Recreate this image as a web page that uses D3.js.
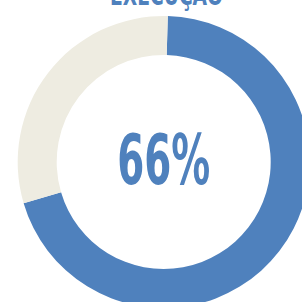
<!DOCTYPE html>
<html>
<head>
<meta charset="utf-8">
<script src="https://cdn.jsdelivr.net/npm/d3@7"></script>
<style>
  html, body { margin: 0; padding: 0; background: #fff; overflow: hidden; }
</style>
</head>
<body>
<svg id="chart" width="302" height="302"></svg>
<script>
// data
const categories = ['Executado', 'Restante'];
const values = [70, 30];
const colors = ['#4f81bd', '#eeece1'];
const titleText = 'EXECUÇÃO';
const centerLabel = '66%';

const width = 302, height = 302;
const cx = 163.7, cy = 162;
const outerR = 146, innerR = 107;

const svg = d3.select('#chart');

const pie = d3.pie()
  .sort(null)
  .startAngle(0.028)
  .endAngle(0.028 + Math.PI * 2);

const arc = d3.arc()
  .innerRadius(innerR)
  .outerRadius(outerR);

const color = d3.scaleOrdinal()
  .domain(categories)
  .range(colors);

const g = svg.append('g')
  .attr('transform', 'translate(' + cx + ',' + cy + ')');

// donut slices
g.selectAll('path')
  .data(pie(values))
  .enter()
  .append('path')
  .attr('d', arc)
  .attr('fill', (d, i) => color(categories[i]));

// big number in the middle
g.append('text')
  .attr('x', 0)
  .attr('y', 22)
  .attr('text-anchor', 'middle')
  .attr('font-family', '"Liberation Sans Narrow", "DejaVu Sans Condensed", sans-serif')
  .attr('font-weight', 'bold')
  .attr('font-size', 70)
  .attr('fill', '#4f81bd')
  .attr('textLength', 93)
  .attr('lengthAdjust', 'spacingAndGlyphs')
  .text(centerLabel);

// title, mostly cut off by the top edge
svg.append('text')
  .attr('x', 166.5)
  .attr('y', 5)
  .attr('text-anchor', 'middle')
  .attr('font-family', '"Liberation Sans Narrow", "DejaVu Sans Condensed", sans-serif')
  .attr('font-weight', 'bold')
  .attr('font-size', 28)
  .attr('fill', '#4f81bd')
  .attr('textLength', 113)
  .attr('lengthAdjust', 'spacingAndGlyphs')
  .text(titleText);
</script>
</body>
</html>
